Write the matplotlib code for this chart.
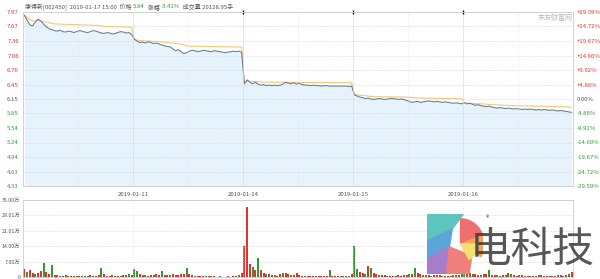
import numpy as np
import matplotlib
matplotlib.use("Agg")
import matplotlib.pyplot as plt
from matplotlib.patches import Polygon, Wedge

plt.rcParams['font.family'] = ['Noto Sans CJK SC', 'DejaVu Sans']

# 5 trading days, 40 samples per day (6 minute steps)
days = ["2019-01-10", "2019-01-11", "2019-01-14", "2019-01-15", "2019-01-16"]
day_labels = ["2019-01-11", "2019-01-14", "2019-01-15", "2019-01-16"]

price_d1 = [7.90, 7.80, 7.70, 7.68, 7.76, 7.82, 7.78, 7.72, 7.66, 7.62,
            7.60, 7.58, 7.57, 7.59, 7.56, 7.55, 7.57, 7.56, 7.54, 7.56,
            7.58, 7.57, 7.55, 7.54, 7.56, 7.58, 7.57, 7.55, 7.53, 7.52,
            7.54, 7.53, 7.51, 7.52, 7.54, 7.56, 7.55, 7.53, 7.54, 7.50]
price_d2 = [7.40, 7.36, 7.33, 7.34, 7.32, 7.35, 7.33, 7.31, 7.32, 7.30,
            7.28, 7.26, 7.25, 7.24, 7.20, 7.16, 7.18, 7.14, 7.10, 7.12,
            7.15, 7.17, 7.16, 7.14, 7.15, 7.17, 7.16, 7.15, 7.14, 7.16,
            7.15, 7.14, 7.13, 7.12, 7.13, 7.14, 7.15, 7.14, 7.15, 7.13]
price_d3 = [6.47, 6.55, 6.50, 6.47, 6.50, 6.46, 6.44, 6.45, 6.43, 6.44,
            6.43, 6.44, 6.43, 6.44, 6.46, 6.50, 6.48, 6.47, 6.49, 6.46,
            6.48, 6.45, 6.44, 6.44, 6.43, 6.44, 6.43, 6.43, 6.42, 6.43,
            6.43, 6.42, 6.42, 6.42, 6.42, 6.42, 6.42, 6.42, 6.41, 6.42]
price_d4 = [6.24, 6.21, 6.19, 6.18, 6.16, 6.17, 6.15, 6.14, 6.15, 6.16,
            6.15, 6.14, 6.15, 6.16, 6.16, 6.15, 6.14, 6.15, 6.14, 6.12,
            6.10, 6.08, 6.09, 6.10, 6.08, 6.09, 6.10, 6.11, 6.10, 6.09,
            6.10, 6.09, 6.08, 6.09, 6.08, 6.07, 6.06, 6.07, 6.06, 6.05]
price_d5 = [6.07, 6.05, 6.06, 6.04, 6.02, 6.03, 6.01, 6.00, 5.99, 6.00,
            5.98, 5.97, 5.96, 5.97, 5.96, 5.95, 5.96, 5.95, 5.94, 5.95,
            5.94, 5.93, 5.94, 5.93, 5.94, 5.93, 5.92, 5.93, 5.92, 5.93,
            5.92, 5.91, 5.92, 5.91, 5.90, 5.91, 5.90, 5.89, 5.88, 5.87]

# volume in 万 shares
vol_d1 = [3.8, 2.5, 3.2, 1.8, 1.2, 2.0, 2.8, 6.5, 2.5, 1.5,
          5.5, 1.0, 0.8, 0.6, 0.5, 0.7, 0.4, 0.5, 0.6, 0.4,
          0.5, 0.6, 0.4, 0.5, 0.7, 0.5, 0.6, 0.8, 4.2, 1.5,
          0.6, 0.5, 0.7, 0.5, 0.6, 0.5, 0.7, 0.9, 1.2, 1.0]
vol_d2 = [3.5, 2.8, 1.5, 1.0, 0.8, 0.6, 0.7, 0.9, 1.2, 0.8,
          2.6, 1.0, 0.7, 0.9, 1.5, 1.0, 0.8, 1.2, 1.5, 4.0,
          1.2, 0.8, 0.6, 0.5, 0.4, 0.3, 0.3, 0.4, 0.3, 0.3,
          0.2, 0.3, 0.2, 0.2, 0.3, 0.2, 0.4, 0.5, 0.8, 1.6]
vol_d3 = [14.0, 32.0, 6.0, 4.5, 3.0, 8.5, 3.0, 2.0, 1.5, 1.2,
          1.0, 0.8, 0.6, 1.5, 2.0, 1.8, 1.2, 0.9, 0.8, 1.6,
          1.0, 0.6, 0.5, 0.4, 0.3, 0.4, 0.3, 0.5, 0.4, 0.3,
          0.6, 3.0, 0.5, 0.4, 0.3, 0.4, 0.3, 0.5, 0.4, 1.5]
vol_d4 = [14.0, 3.5, 2.5, 2.0, 1.5, 5.0, 4.0, 1.8, 1.2, 1.0,
          0.8, 0.7, 0.6, 0.5, 0.6, 0.5, 0.7, 0.6, 0.8, 1.0,
          1.2, 1.5, 4.0, 2.0, 1.5, 1.0, 0.8, 0.7, 0.6, 0.8,
          1.0, 0.7, 0.6, 0.5, 0.6, 0.5, 0.7, 0.8, 1.0, 1.5]
vol_d5 = [4.0, 3.5, 2.0, 1.5, 1.2, 1.0, 0.8, 1.2, 1.5, 3.2,
          1.0, 0.8, 0.7, 0.6, 0.8, 1.0, 2.0, 1.2, 0.8, 0.6,
          0.7, 0.8, 0.6, 0.5, 0.6, 0.5, 0.6, 0.8, 0.7, 0.6,
          0.5, 0.6, 0.5, 0.6, 0.7, 0.8, 0.6, 0.9, 1.2, 2.2]

# r = up tick, g = down tick
col_d1 = "rgrrgrrgrr" + "grrgrrgrrg" + "rrgrrgrrgr" + "rrgrrgrrgr"
col_d2 = "ggrrgrrgrr" + "grrgrrrrrg" + "rrgrrrgrrr" + "rgrrrgrrgr"
col_d3 = "rrrgrgrrgr" + "rgrrgrrgrr" + "rrgrrrgrrr" + "rgrrrgrrgr"
col_d4 = "ggrrgrgrrg" + "rrgrrgrrrr" + "grgrrgrrgr" + "rrgrrrgrrg"
col_d5 = "grrgrrgrrg" + "rrgrrgrgrr" + "grrrgrrgrr" + "rgrrgrrrgr"

price_ticks = [7.97, 7.67, 7.36, 7.06, 6.76, 6.45, 6.15, 5.85, 5.54, 5.24, 4.94, 4.63, 4.33]
pct_labels = ["+29.59%", "+24.72%", "+19.67%", "+14.60%", "+9.92%", "+4.88%", "0.00%",
              "-4.88%", "-9.92%", "-14.60%", "-19.67%", "-24.72%", "-29.59%"]
vol_ticks = [0, 7.00, 14.00, 21.01, 28.01, 35.00]
vol_labels = ["0", "7.00万", "14.00万", "21.01万", "28.01万", "35.00万"]

RED = "#e0332f"
GREEN = "#2f9a35"
GRAY = "#555555"
n_per_day = 40

prices = np.array(price_d1 + price_d2 + price_d3 + price_d4 + price_d5)
vols = np.array(vol_d1 + vol_d2 + vol_d3 + vol_d4 + vol_d5)
cols = col_d1 + col_d2 + col_d3 + col_d4 + col_d5
x = np.arange(len(prices)) + 0.5

# average price line, reset every day
avg = []
for d in range(len(days)):
    p = prices[d * n_per_day:(d + 1) * n_per_day]
    v = vols[d * n_per_day:(d + 1) * n_per_day]
    avg.extend(np.cumsum(p * v) / np.cumsum(v))
avg = np.array(avg)

fig = plt.figure(figsize=(6, 2.79), dpi=100)
W, H = 600.0, 279.0
ax = fig.add_axes([23 / W, 1 - 186 / H, 550 / W, 174 / H])
axv = fig.add_axes([23 / W, 1 - 277 / H, 550 / W, 77 / H])

xmax = n_per_day * len(days)

# price panel
ax.fill_between(x, prices, 4.33, color="#e6f3fc", lw=0)
ax.plot(x, avg, color="#f2c77a", lw=0.8)
ax.plot(x, prices, color="#6b8196", lw=0.8)
ax.set_xlim(0, xmax)
ax.set_ylim(4.33, 7.97)
ax.set_yticks(price_ticks)
lab_cols = [RED] * 6 + [GRAY] + [GREEN] * 6
ax.set_yticklabels(["%.2f" % t for t in price_ticks], fontsize=4.3)
for lab, c in zip(ax.get_yticklabels(), lab_cols):
    lab.set_color(c)
ax.tick_params(axis="y", length=0, pad=3)
ax.grid(axis="y", color="#d0d0d0", ls=(0, (1.5, 2)), lw=0.5)
for d in range(1, len(days)):
    ax.axvline(d * n_per_day, color="#dddddd", lw=0.5)
    if d > 1:
        ax.plot(d * n_per_day, 7.97, marker="|", color="black", ms=3, mew=1, clip_on=False)
for d in range(len(days)):
    ax.axvline(d * n_per_day + n_per_day / 2, color="#e4e4e4", lw=0.5, ls=(0, (1.5, 2)))
ax.set_xticks([d * n_per_day for d in range(1, len(days))])
ax.set_xticklabels(day_labels, fontsize=4.3, color=GRAY)
ax.tick_params(axis="x", length=0, pad=4)
for s in ax.spines.values():
    s.set_color("#cccccc")
    s.set_linewidth(0.6)

axr = ax.twinx()
axr.set_ylim(4.33, 7.97)
axr.set_yticks(price_ticks)
axr.set_yticklabels(pct_labels, fontsize=4.3)
for lab, c in zip(axr.get_yticklabels(), lab_cols):
    lab.set_color(c)
axr.tick_params(axis="y", length=0, pad=3)
for s in axr.spines.values():
    s.set_visible(False)

# volume panel
bar_cols = [RED if c == "r" else GREEN for c in cols]
axv.bar(x, vols, width=0.75, color=bar_cols, lw=0)
axv.set_xlim(0, xmax)
axv.set_ylim(0, 35.0)
axv.set_yticks(vol_ticks)
axv.set_yticklabels(vol_labels, fontsize=3.8, color=GRAY)
axv.tick_params(axis="y", length=0, pad=2)
axv.set_xticks([])
axv.grid(axis="y", color="#d0d0d0", ls=(0, (1.5, 2)), lw=0.5)
for d in range(1, len(days)):
    axv.axvline(d * n_per_day, color="#e2e2e2", lw=0.5, ls=(0, (1.5, 2)))
for s in axv.spines.values():
    s.set_color("#cccccc")
    s.set_linewidth(0.6)
axv.set_axisbelow(True)

# header, pieces laid out one after another
header = [("康得新[002450]  2019-01-17 15:00  价格 ", GRAY), ("5.84", GREEN),
          ("  涨幅 ", GRAY), ("-3.41%", GREEN), ("  成交量 20128.95手", GRAY)]
renderer = fig.canvas.get_renderer()
hx = 25 / W
for txt, c in header:
    t = fig.text(hx, 1 - 7 / H, txt, fontsize=4.3, color=c, va="center")
    bb = t.get_window_extent(renderer=renderer)
    hx += bb.width / fig.bbox.width

# watermarks
fig.text(572 / W, 1 - 18 / H, "东方财富网", fontsize=5, color="#b8b8b8", ha="right", va="center")
fig.text(595 / W, 1 - 250 / H, "电科技", fontsize=30, color="#3a3a3a", ha="right",
         va="center", alpha=0.85)
lg = fig.add_axes([427 / W, 1 - 274 / H, 56 / W, 60 / H])
lg.set_xlim(0, 1)
lg.set_ylim(0, 1)
lg.axis("off")
lg.add_patch(Polygon([(0, 0.55), (0, 1), (0.65, 1), (0.45, 0.75)], color="#5fc3be"))
lg.add_patch(Polygon([(0, 0.25), (0, 0.55), (0.45, 0.75), (0.4, 0.45)], color="#5aa6db"))
lg.add_patch(Polygon([(0, 0), (0, 0.25), (0.4, 0.45), (0.35, 0)], color="#a77cc8"))
lg.add_patch(Polygon([(0.35, 0), (0.4, 0.45), (0.8, 0.3), (0.75, 0)], color="#ee7f7a"))
lg.add_patch(Wedge((0.6, 0.5), 0.42, 20, 90, color="#ee6f6f"))
lg.add_patch(Wedge((0.6, 0.5), 0.42, -30, 20, color="#f5a15a"))
lg.add_patch(Wedge((0.6, 0.5), 0.3, -60, 0, color="#f2e070"))
fig.text(486 / W, 1 - 218 / H, "®", fontsize=5, color="#3a3a3a", va="center")

fig.savefig("out.png", dpi=100)
